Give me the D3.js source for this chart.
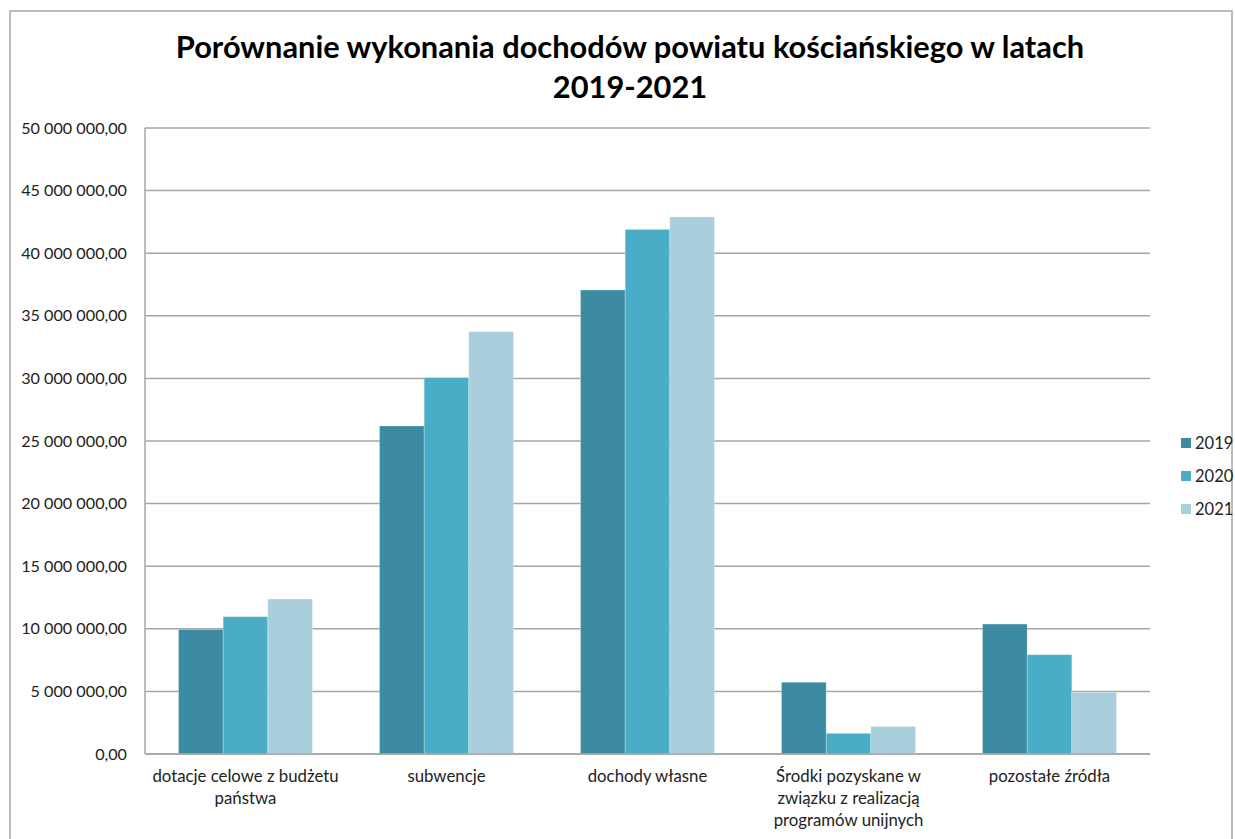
<!DOCTYPE html>
<html><head><meta charset="utf-8">
<script src="https://cdn.jsdelivr.net/npm/d3@7"></script>
<style>
html,body{margin:0;padding:0;background:#fff;}
svg{display:block;font-family:Lato,"Open Sans",sans-serif;}
</style></head>
<body>
<svg id="chart" width="1235" height="839"></svg>
<script>
const categories = [
  ["dotacje celowe z budżetu", "państwa"],
  ["subwencje"],
  ["dochody własne"],
  ["Środki pozyskane w", "związku z realizacją", "programów unijnych"],
  ["pozostałe źródła"]
];
const years = ["2019", "2020", "2021"];
const values2019 = [9950000, 26200000, 37060000, 5730000, 10380000];
const values2020 = [10970000, 30060000, 41900000, 1650000, 7930000];
const values2021 = [12380000, 33730000, 42900000, 2200000, 4930000];
const yTicks = [0, 5000000, 10000000, 15000000, 20000000, 25000000, 30000000, 35000000, 40000000, 45000000, 50000000];
const colors = ["#3c8ba2", "#4aadc7", "#a9cedc"];
const titleLines = ["Porównanie wykonania dochodów powiatu kościańskiego w latach", "2019-2021"];

const series = [values2019, values2020, values2021];
const svg = d3.select("#chart");

// outer frame
svg.append("rect").attr("x", 10).attr("y", 11).attr("width", 1222).attr("height", 840)
  .attr("fill", "none").attr("stroke", "#a6a6a6").attr("stroke-width", 1.5);

const pLeft = 145, pRight = 1150, pTop = 128, pBottom = 754;
const x0 = d3.scaleBand().domain(d3.range(categories.length)).range([pLeft, pRight]).paddingInner(0).paddingOuter(0);
const innerPad = x0.bandwidth() / 6;
const x1 = d3.scaleBand().domain(years).range([innerPad, x0.bandwidth() - innerPad]);
const y = d3.scaleLinear().domain([0, 50000000]).range([pBottom, pTop]);

const loc = d3.formatLocale({decimal: ",", thousands: " ", grouping: [3], currency: ["", ""]});
const fmt = loc.format(",.2f");

// gridlines
svg.append("g").selectAll("line").data(yTicks).join("line")
  .attr("x1", pLeft).attr("x2", pRight)
  .attr("y1", d => y(d)).attr("y2", d => y(d))
  .attr("stroke", "#a6a6a6").attr("stroke-width", 1.5);

// y axis line
svg.append("line").attr("x1", pLeft).attr("x2", pLeft).attr("y1", pTop).attr("y2", pBottom)
  .attr("stroke", "#a6a6a6").attr("stroke-width", 1.5);

// y labels
svg.append("g").selectAll("text").data(yTicks).join("text")
  .attr("x", 127).attr("y", d => y(d)).attr("dy", "0.35em")
  .attr("text-anchor", "end").attr("font-size", 16.2).attr("fill", "#222")
  .text(d => fmt(d));

// bars
const groups = svg.append("g").selectAll("g").data(categories.map((c, i) => i)).join("g")
  .attr("transform", i => `translate(${x0(i)},0)`);
groups.selectAll("rect").data(i => years.map((yr, k) => ({yr, k, v: series[k][i]}))).join("rect")
  .attr("x", d => x1(d.yr)).attr("width", x1.bandwidth())
  .attr("y", d => y(d.v)).attr("height", d => pBottom - y(d.v))
  .attr("fill", d => colors[d.k])
  .attr("stroke", "#ffffff").attr("stroke-opacity", 0.35).attr("stroke-width", 0.8);

// x axis line on top of bars
svg.append("line").attr("x1", pLeft).attr("x2", pRight).attr("y1", pBottom).attr("y2", pBottom)
  .attr("stroke", "#a6a6a6").attr("stroke-width", 1.5);

// x labels
const xl = svg.append("g").selectAll("text").data(categories).join("text")
  .attr("x", (d, i) => x0(i) + x0.bandwidth() / 2).attr("y", 782)
  .attr("text-anchor", "middle").attr("font-size", 16.8).attr("fill", "#222");
xl.selectAll("tspan").data(d => d).join("tspan")
  .attr("x", function() { return d3.select(this.parentNode).attr("x"); })
  .attr("dy", (d, j) => j === 0 ? 0 : 22)
  .text(d => d);

// title
svg.append("g").selectAll("text").data(titleLines).join("text")
  .attr("x", 630).attr("y", (d, i) => 58 + i * 40)
  .attr("text-anchor", "middle").attr("font-size", 30.8).attr("font-weight", "bold").attr("fill", "#000")
  .text(d => d);

// legend
const lg = svg.append("g").selectAll("g").data(years).join("g")
  .attr("transform", (d, i) => `translate(1181,${443 + i * 33})`);
lg.append("rect").attr("x", 0).attr("y", -5).attr("width", 10).attr("height", 10)
  .attr("fill", (d, i) => colors[i]);
lg.append("text").attr("x", 14).attr("dy", "0.35em").attr("font-size", 16.5).attr("fill", "#222").text(d => d);
</script>
</body></html>
